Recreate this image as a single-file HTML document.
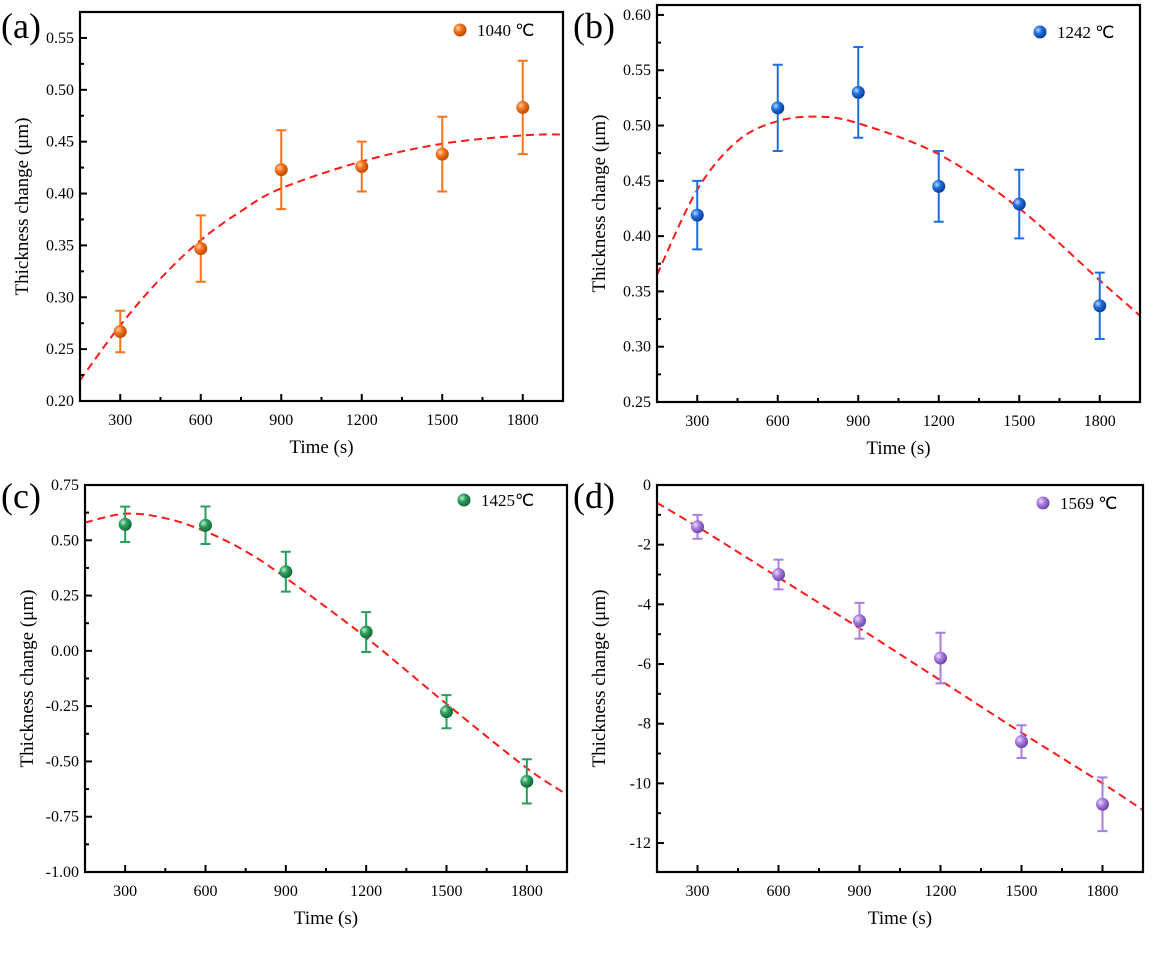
<!DOCTYPE html>
<html><head><meta charset="utf-8"><style>
body{margin:0;background:#fff;}
svg text{font-family:"Liberation Serif",serif;fill:#000;}
</style></head><body>
<svg id="fig" width="1168" height="950" xmlns="http://www.w3.org/2000/svg">
<defs>
<radialGradient id="g-orange" cx="35%" cy="35%" r="65%"><stop offset="0" stop-color="#ffd0a8"/><stop offset="0.45" stop-color="#f5731a"/><stop offset="1" stop-color="#c04a00"/></radialGradient>
<radialGradient id="g-blue" cx="35%" cy="35%" r="65%"><stop offset="0" stop-color="#b8d4ff"/><stop offset="0.45" stop-color="#1f6fe0"/><stop offset="1" stop-color="#0b3f9a"/></radialGradient>
<radialGradient id="g-green" cx="35%" cy="35%" r="65%"><stop offset="0" stop-color="#bff0d2"/><stop offset="0.45" stop-color="#2a9d5c"/><stop offset="1" stop-color="#146b3a"/></radialGradient>
<radialGradient id="g-purple" cx="35%" cy="35%" r="65%"><stop offset="0" stop-color="#eadcff"/><stop offset="0.45" stop-color="#a97ee0"/><stop offset="1" stop-color="#6e47a8"/></radialGradient>
</defs>
</svg>
<script>
// shared categories
const times = [300, 600, 900, 1200, 1500, 1800];
const xTicks = [300, 600, 900, 1200, 1500, 1800];
const curveX = [150, 300, 450, 600, 750, 900, 1200, 1500, 1800, 1950];
// panel a
const aValues = [0.267, 0.347, 0.423, 0.426, 0.438, 0.483];
const aErrors = [0.020, 0.032, 0.038, 0.024, 0.036, 0.045];
const aCurve = [0.220, 0.273, 0.318, 0.355, 0.383, 0.405, 0.431, 0.448, 0.456, 0.457];
const aYTicks = [0.20, 0.25, 0.30, 0.35, 0.40, 0.45, 0.50, 0.55];
const aYLabels = ["0.20","0.25","0.30","0.35","0.40","0.45","0.50","0.55"];
// panel b
const bValues = [0.419, 0.516, 0.530, 0.445, 0.429, 0.337];
const bErrors = [0.031, 0.039, 0.041, 0.032, 0.031, 0.030];
const bCurve = [0.365, 0.442, 0.486, 0.504, 0.508, 0.502, 0.474, 0.425, 0.360, 0.328];
const bYTicks = [0.25, 0.30, 0.35, 0.40, 0.45, 0.50, 0.55, 0.60];
const bYLabels = ["0.25","0.30","0.35","0.40","0.45","0.50","0.55","0.60"];
// panel c
const cValues = [0.572, 0.568, 0.358, 0.085, -0.275, -0.590];
const cErrors = [0.080, 0.085, 0.090, 0.090, 0.075, 0.100];
const cCurve = [0.580, 0.620, 0.600, 0.540, 0.450, 0.330, 0.060, -0.240, -0.530, -0.650];
const cYTicks = [-1.0, -0.75, -0.5, -0.25, 0, 0.25, 0.5, 0.75];
const cYLabels = ["-1.00","-0.75","-0.50","-0.25","0.00","0.25","0.50","0.75"];
// panel d
const dValues = [-1.4, -3.0, -4.55, -5.8, -8.6, -10.7];
const dErrors = [0.4, 0.5, 0.6, 0.85, 0.55, 0.9];
const dCurve = [-0.6, -1.4, -2.25, -3.1, -3.95, -4.8, -6.55, -8.3, -10.0, -10.9];
const dYTicks = [-12, -10, -8, -6, -4, -2, 0];
const dYLabels = ["-12","-10","-8","-6","-4","-2","0"];

const svg = document.getElementById('fig');
const NS = 'http://www.w3.org/2000/svg';
function mk(tag, attrs, parent){const e=document.createElementNS(NS,tag);for(const k in attrs)e.setAttribute(k,attrs[k]);(parent||svg).appendChild(e);return e;}

function smoothPath(pts){
  let d='M'+pts[0][0].toFixed(1)+','+pts[0][1].toFixed(1);
  for(let i=0;i<pts.length-1;i++){
    const p0=pts[Math.max(0,i-1)],p1=pts[i],p2=pts[i+1],p3=pts[Math.min(pts.length-1,i+2)];
    const c1=[p1[0]+(p2[0]-p0[0])/6,p1[1]+(p2[1]-p0[1])/6];
    const c2=[p2[0]-(p3[0]-p1[0])/6,p2[1]-(p3[1]-p1[1])/6];
    d+=`C${c1[0].toFixed(1)},${c1[1].toFixed(1)} ${c2[0].toFixed(1)},${c2[1].toFixed(1)} ${p2[0].toFixed(1)},${p2[1].toFixed(1)}`;
  }
  return d;
}

function panel(o){
  const g = mk('g',{});
  
  
  const X = v => o.x0 + (v-150)/(1950-150)*(o.x1-o.x0);
  const Y = v => o.y1 - (v-o.ymin)/(o.ymax-o.ymin)*(o.y1-o.y0);
  const pts = curveX.map((t,i)=>[X(t),Y(o.curve[i])]);
  const c = mk('path',{d:smoothPath(pts),fill:'none',stroke:'#ff1a1a','stroke-width':2,'stroke-dasharray':'8,5'},g);
  
  
  times.forEach((t,i)=>{
    const cx=X(t), v=o.vals[i], e=o.errs[i];
    const eb = mk('path',{d:`M${cx},${Y(v+e)}V${Y(v-e)}M${cx-5},${Y(v+e)}H${cx+5}M${cx-5},${Y(v-e)}H${cx+5}`,stroke:o.color,'stroke-width':2,fill:'none'},g);
    
    
    const p = mk('circle',{cx:cx,cy:Y(v),r:6.5,fill:`url(#g-${o.grad})`},g);
    
    
  });
  const f = mk('rect',{x:o.x0,y:o.y0,width:o.x1-o.x0,height:o.y1-o.y0,fill:'none',stroke:'#000','stroke-width':2.2},g);
  
  
  xTicks.forEach(t=>{
    mk('line',{x1:X(t),x2:X(t),y1:o.y1,y2:o.y1-7,stroke:'#000','stroke-width':2},g);
    mk('line',{x1:X(t-150),x2:X(t-150),y1:o.y1,y2:o.y1-4,stroke:'#000','stroke-width':2},g);
    const tl = mk('text',{x:X(t),y:o.y1+24,'text-anchor':'middle','font-size':16},g);
    tl.textContent=t;
    
    
  });
  mk('line',{x1:X(1950),x2:X(1950),y1:o.y1,y2:o.y1-4,stroke:'#000','stroke-width':2},g);
  o.yt.forEach((v,i)=>{
    mk('line',{x1:o.x0,x2:o.x0+7,y1:Y(v),y2:Y(v),stroke:'#000','stroke-width':2},g);
    const mv = v + (o.yt[1]-o.yt[0])/2;
    if(mv<o.ymax) mk('line',{x1:o.x0,x2:o.x0+4,y1:Y(mv),y2:Y(mv),stroke:'#000','stroke-width':2},g);
    const tl = mk('text',{x:o.x0-6,y:Y(v)+5,'text-anchor':'end','font-size':16},g);
    tl.textContent=o.yl[i];
    
    
  });
  const xt = mk('text',{x:(o.x0+o.x1)/2,y:o.y1+52,'text-anchor':'middle','font-size':19},g);
  xt.textContent='Time (s)';
  
  
  const yc=(o.y0+o.y1)/2, yx=o.x0-52;
  const yt = mk('text',{x:yx,y:yc,'text-anchor':'middle','font-size':19,transform:`rotate(-90 ${yx} ${yc})`},g);
  yt.textContent='Thickness change (μm)';
  
  
  const pl = mk('text',{x:o.lx,y:o.ly,'font-size':36},g);
  pl.textContent=o.label;
  
  
  const lg = mk('g',{},g);
  
  
  mk('circle',{cx:o.legx,cy:o.legy,r:6.5,fill:`url(#g-${o.grad})`},lg);
  const lt = mk('text',{x:o.legx+17,y:o.legy+6,'font-size':17},lg);
  lt.textContent=o.legend;
}

panel({id:'a',x0:80,x1:563,y0:12,y1:401,ymin:0.20,ymax:0.575,vals:aValues,errs:aErrors,curve:aCurve,yt:aYTicks,yl:aYLabels,color:'#f5731a',grad:'orange',label:'(a)',lx:1,ly:38,legend:'1040 ℃',legx:460,legy:30});
panel({id:'b',x0:657,x1:1140,y0:5,y1:402,ymin:0.25,ymax:0.609,vals:bValues,errs:bErrors,curve:bCurve,yt:bYTicks,yl:bYLabels,color:'#1f6fe0',grad:'blue',label:'(b)',lx:573,ly:38,legend:'1242 ℃',legx:1040,legy:32});
panel({id:'c',x0:85,x1:567,y0:485,y1:872,ymin:-1.0,ymax:0.75,vals:cValues,errs:cErrors,curve:cCurve,yt:cYTicks,yl:cYLabels,color:'#2a9d5c',grad:'green',label:'(c)',lx:1,ly:508,legend:'1425℃',legx:464,legy:500});
panel({id:'d',x0:657,x1:1143,y0:485,y1:872,ymin:-12.97,ymax:0,vals:dValues,errs:dErrors,curve:dCurve,yt:dYTicks,yl:dYLabels,color:'#a97ee0',grad:'purple',label:'(d)',lx:573,ly:508,legend:'1569 ℃',legx:1043,legy:503});
</script>
</body></html>
